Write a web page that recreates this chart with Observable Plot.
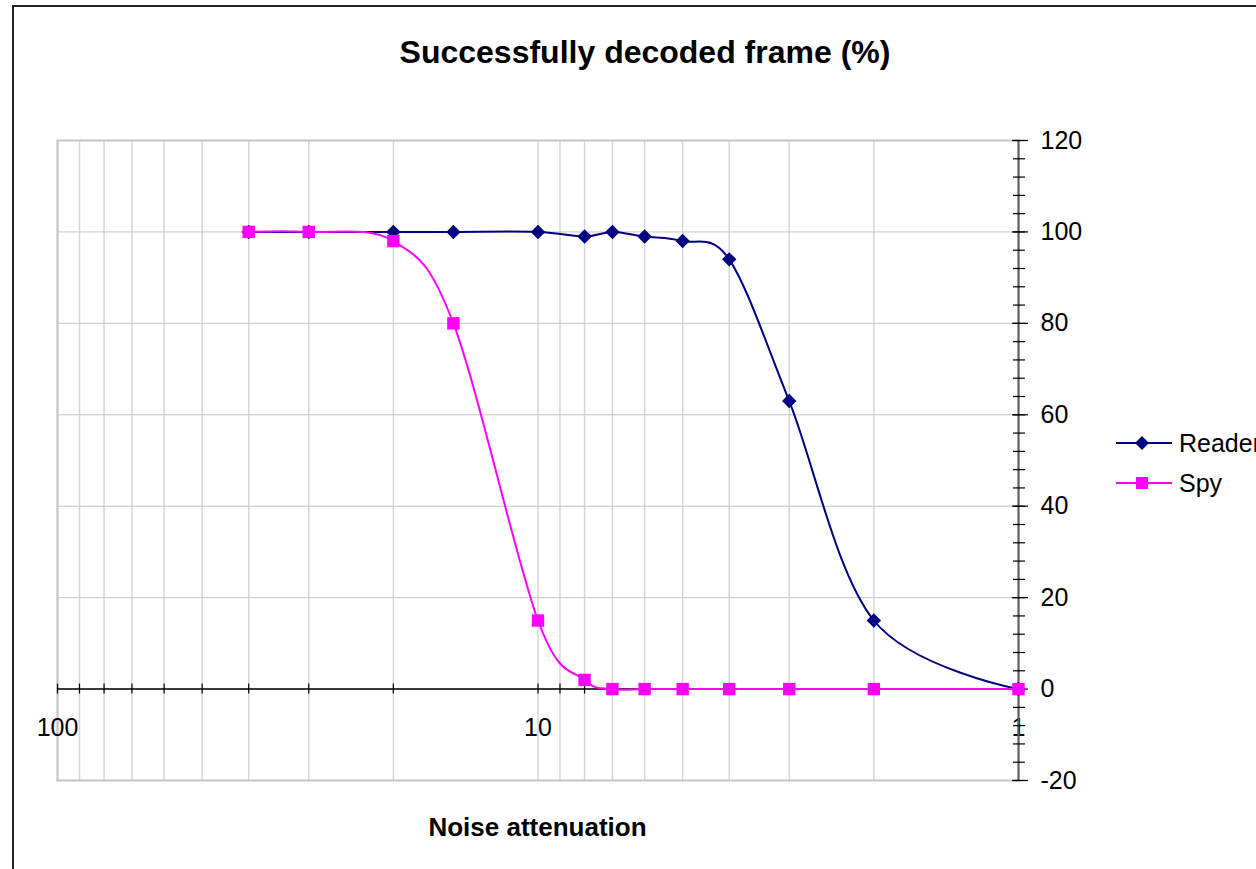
<!DOCTYPE html>
<html><head><meta charset="utf-8">
<script src="https://cdn.jsdelivr.net/npm/d3@7"></script>
<script src="https://cdn.jsdelivr.net/npm/@observablehq/plot@0.6"></script>
<style>
html,body{margin:0;padding:0;background:#fff;}
body{font-family:"Liberation Sans",Arial,sans-serif;color:#000;}
#wrap{position:relative;width:1256px;height:869px;overflow:hidden;background:#fff;}
#border{position:absolute;left:12px;top:5px;width:1400px;height:1000px;border-left:2px solid #222;border-top:2px solid #222;box-sizing:border-box;}
#chart{position:absolute;left:0;top:0;}
#title{position:absolute;left:0;width:1290px;top:36px;text-align:center;font-weight:bold;font-size:32px;line-height:32px;white-space:nowrap;}
#xlabel{position:absolute;left:0;width:1075px;top:814px;text-align:center;font-weight:bold;font-size:26px;line-height:26px;white-space:nowrap;}
#legend{position:absolute;left:1100px;top:420px;}
</style>
</head><body>
<div id="wrap">
  <div id="border"></div>
  <div id="chart"></div>
  <div id="title">Successfully decoded frame (%)</div>
  <div id="xlabel">Noise attenuation</div>
  <svg id="legend" width="160" height="90" font-family="Liberation Sans, Arial, sans-serif" font-size="25">
    <line x1="16" x2="72" y1="23" y2="23" stroke="#000080" stroke-width="2"/>
    <path d="M42,16 L49,23 L42,30 L35,23 Z" fill="#000080"/>
    <text x="79" y="32" fill="#000">Reader</text>
    <line x1="16" x2="72" y1="63" y2="63" stroke="#FF00FF" stroke-width="2"/>
    <rect x="36" y="57" width="12" height="12" fill="#FF00FF"/>
    <text x="79" y="72" fill="#000">Spy</text>
  </svg>
</div>
<script>
// ---- data ----
const attenuation = [40, 30, 20, 15, 10, 8, 7, 6, 5, 4, 3, 2, 1];
const readerValues = [100, 100, 100, 100, 100, 99, 100, 99, 98, 94, 63, 15, 0];
const spyValues    = [100, 100, 98, 80, 15, 2, 0, 0, 0, 0, 0, 0, 0];
const xGridValues = [100, 90, 80, 70, 60, 50, 40, 30, 20, 10, 9, 8, 7, 6, 5, 4, 3, 2, 1];
const xTickLabels = [100, 10, 1];
const yMajorTicks = [-20, 0, 20, 40, 60, 80, 100, 120];
const yMinorTicks = d3.range(-20, 121, 4);

const reader = attenuation.map((a, i) => ({a, v: readerValues[i]}));
const spy = attenuation.map((a, i) => ({a, v: spyValues[i]}));

const H = 869, mTop = 140, mBottom = 89;
const yDomain = [-20, 120];
const zeroFromBottom = (0 - yDomain[0]) / (yDomain[1] - yDomain[0]) * (H - mTop - mBottom);

const chart = Plot.plot({
  width: 1256,
  height: H,
  marginLeft: 57,
  marginRight: 238,
  marginTop: mTop,
  marginBottom: mBottom,
  style: {fontFamily: "Liberation Sans, Arial, sans-serif", fontSize: "25px", color: "#000", background: "transparent", overflow: "visible"},
  x: {type: "log", domain: [100, 1]},
  y: {domain: yDomain},
  marks: [
    Plot.gridX(xGridValues, {stroke: "#d6d6d6", strokeOpacity: 1, strokeWidth: 1.5}),
    Plot.gridY(yMajorTicks, {stroke: "#c4c4c4", strokeOpacity: 1, strokeWidth: 1}),
    Plot.frame({stroke: "#c4c4c4", strokeWidth: 2}),
    Plot.ruleY([0], {stroke: "#000", strokeWidth: 1.5}),
    Plot.axisX(xGridValues, {anchor: "bottom", tickSize: 10, dy: -zeroFromBottom - 5, fill: "none", stroke: "#000", strokeWidth: 1.2, label: null}),
    Plot.axisX(xTickLabels, {anchor: "bottom", tickSize: 0, tickPadding: 0, dy: -62, fontSize: 25, label: null, tickFormat: d => String(d)}),
    Plot.ruleX([1], {stroke: "#606060", strokeWidth: 2}),
    Plot.axisY(yMinorTicks, {anchor: "right", tickSize: 12, dx: -6, fill: "none", stroke: "#000", strokeWidth: 1.2, label: null}),
    Plot.axisY(yMajorTicks, {anchor: "right", tickSize: 16, dx: -7, fill: "none", stroke: "#000", strokeWidth: 1.2, label: null}),
    Plot.axisY(yMajorTicks, {anchor: "right", tickSize: 0, tickPadding: 22, fontSize: 25, label: null, tickFormat: d => String(d)}),
    Plot.line(reader, {x: "a", y: "v", stroke: "#000080", strokeWidth: 2, curve: "cardinal"}),
    Plot.dot(reader, {x: "a", y: "v", symbol: "diamond2", r: 6.5, fill: "#000080", stroke: "none"}),
    Plot.line(spy, {x: "a", y: "v", stroke: "#FF00FF", strokeWidth: 2, curve: "cardinal"}),
    Plot.dot(spy, {x: "a", y: "v", symbol: "square", r: 7, fill: "#FF00FF", stroke: "none"})
  ]
});
document.getElementById("chart").appendChild(chart);
</script>
</body></html>
